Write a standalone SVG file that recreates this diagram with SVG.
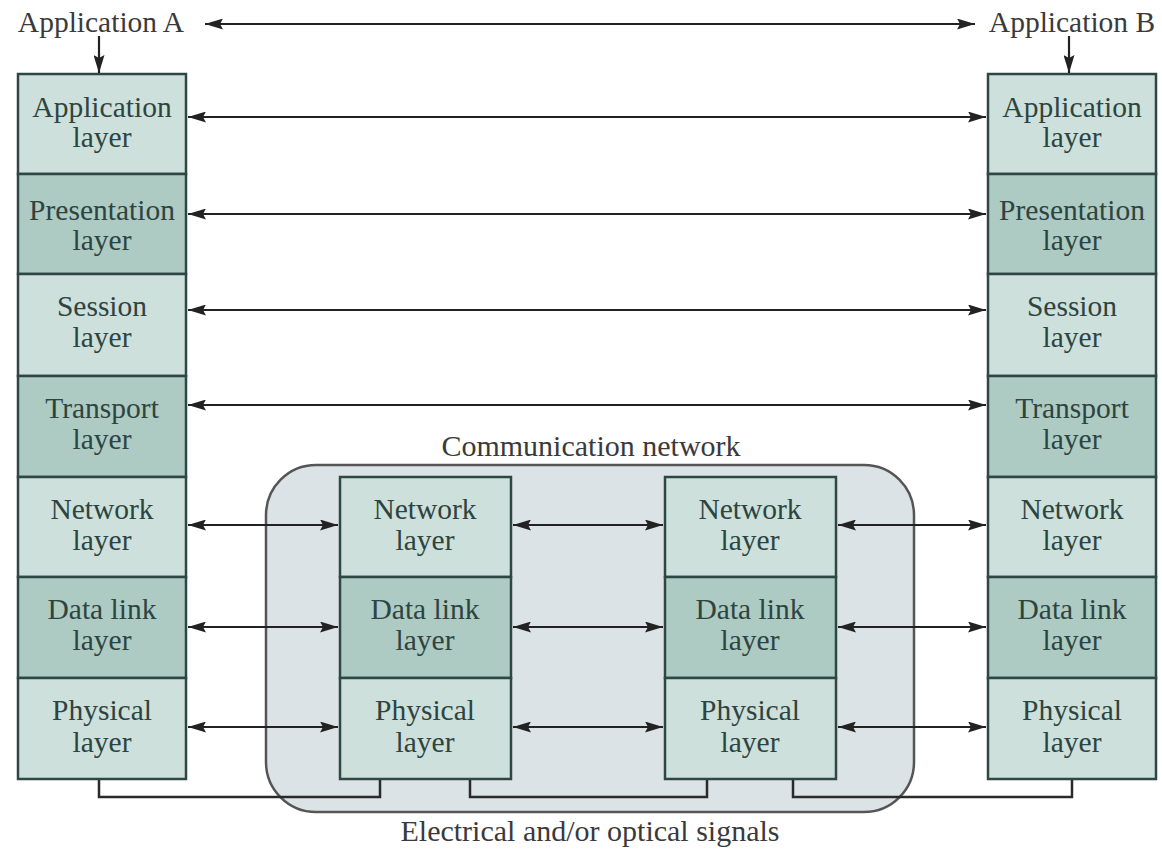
<svg xmlns="http://www.w3.org/2000/svg" width="1162" height="852" viewBox="0 0 1162 852">
<style>
.lt{fill:#cde0db;stroke:#2f4743;stroke-width:2.5}
.dk{fill:#adcac3;stroke:#2f4743;stroke-width:2.5}
.t{font-family:"Liberation Serif",serif;font-size:29.5px;fill:#2e4440;text-anchor:middle}
.lbl{font-family:"Liberation Serif",serif;font-size:30px;fill:#3a3a3a;text-anchor:middle}
.app{font-family:"Liberation Serif",serif;font-size:29.5px;fill:#3a3a3a;text-anchor:middle}
.a{stroke:#222;stroke-width:2.2;fill:none;marker-start:url(#ah);marker-end:url(#ah)}
.s{stroke:#2a2a2a;stroke-width:2.5;fill:none}
</style>
<defs>
<marker id="ah" viewBox="0 0 18 11" refX="18" refY="5.5" markerWidth="18" markerHeight="11" markerUnits="userSpaceOnUse" orient="auto-start-reverse">
<path d="M0,0 L18,5.5 L0,11 L3,5.5 Z" fill="#222"/>
</marker>
</defs>
<rect width="1162" height="852" fill="#ffffff"/>
<g id="network-cloud">
<rect x="266" y="465" width="648" height="347" rx="50" ry="50" fill="#dce3e6" stroke="#555" stroke-width="2.5"/>
<text class="lbl" x="591" y="456">Communication network</text>
</g>
<g id="stack-A">
<rect class="lt" x="18" y="74" width="168" height="100"/>
<text class="t" x="102" y="117">Application</text><text class="t" x="102" y="147">layer</text>
<rect class="dk" x="18" y="174" width="168" height="100"/>
<text class="t" x="102" y="220">Presentation</text><text class="t" x="102" y="250">layer</text>
<rect class="lt" x="18" y="274" width="168" height="102"/>
<text class="t" x="102" y="316">Session</text><text class="t" x="102" y="347">layer</text>
<rect class="dk" x="18" y="376" width="168" height="101"/>
<text class="t" x="102" y="418">Transport</text><text class="t" x="102" y="449">layer</text>
<rect class="lt" x="18" y="477" width="168" height="100"/>
<text class="t" x="102" y="519">Network</text><text class="t" x="102" y="550">layer</text>
<rect class="dk" x="18" y="577" width="168" height="101"/>
<text class="t" x="102" y="619">Data link</text><text class="t" x="102" y="650">layer</text>
<rect class="lt" x="18" y="678" width="168" height="101"/>
<text class="t" x="102" y="720">Physical</text><text class="t" x="102" y="752">layer</text>
</g>
<g id="stack-B">
<rect class="lt" x="988" y="74" width="168" height="100"/>
<text class="t" x="1072" y="117">Application</text><text class="t" x="1072" y="147">layer</text>
<rect class="dk" x="988" y="174" width="168" height="100"/>
<text class="t" x="1072" y="220">Presentation</text><text class="t" x="1072" y="250">layer</text>
<rect class="lt" x="988" y="274" width="168" height="102"/>
<text class="t" x="1072" y="316">Session</text><text class="t" x="1072" y="347">layer</text>
<rect class="dk" x="988" y="376" width="168" height="101"/>
<text class="t" x="1072" y="418">Transport</text><text class="t" x="1072" y="449">layer</text>
<rect class="lt" x="988" y="477" width="168" height="100"/>
<text class="t" x="1072" y="519">Network</text><text class="t" x="1072" y="550">layer</text>
<rect class="dk" x="988" y="577" width="168" height="101"/>
<text class="t" x="1072" y="619">Data link</text><text class="t" x="1072" y="650">layer</text>
<rect class="lt" x="988" y="678" width="168" height="101"/>
<text class="t" x="1072" y="720">Physical</text><text class="t" x="1072" y="752">layer</text>
</g>
<g id="node-1">
<rect class="lt" x="340" y="477" width="171" height="100"/>
<text class="t" x="425" y="519">Network</text><text class="t" x="425" y="550">layer</text>
<rect class="dk" x="340" y="577" width="171" height="101"/>
<text class="t" x="425" y="619">Data link</text><text class="t" x="425" y="650">layer</text>
<rect class="lt" x="340" y="678" width="171" height="101"/>
<text class="t" x="425" y="720">Physical</text><text class="t" x="425" y="752">layer</text>
</g>
<g id="node-2">
<rect class="lt" x="665" y="477" width="171" height="100"/>
<text class="t" x="750" y="519">Network</text><text class="t" x="750" y="550">layer</text>
<rect class="dk" x="665" y="577" width="171" height="101"/>
<text class="t" x="750" y="619">Data link</text><text class="t" x="750" y="650">layer</text>
<rect class="lt" x="665" y="678" width="171" height="101"/>
<text class="t" x="750" y="720">Physical</text><text class="t" x="750" y="752">layer</text>
</g>
<g id="labels">
<text class="app" x="101" y="32">Application A</text>
<text class="app" x="1072" y="32">Application B</text>
<text class="lbl" x="590" y="841">Electrical and/or optical signals</text>
</g>
<g id="connectors">
<line class="a" x1="205" y1="24" x2="975" y2="24"/>
<line x1="99" y1="36" x2="99" y2="73" stroke="#222" stroke-width="2.2" marker-end="url(#ah)"/>
<line x1="1069" y1="36" x2="1069" y2="73" stroke="#222" stroke-width="2.2" marker-end="url(#ah)"/>
<line class="a" x1="188" y1="117" x2="986" y2="117"/>
<line class="a" x1="188" y1="214" x2="986" y2="214"/>
<line class="a" x1="188" y1="310" x2="986" y2="310"/>
<line class="a" x1="188" y1="405" x2="986" y2="405"/>
<line class="a" x1="188" y1="525" x2="338" y2="525"/>
<line class="a" x1="513" y1="525" x2="663" y2="525"/>
<line class="a" x1="838" y1="525" x2="986" y2="525"/>
<line class="a" x1="188" y1="627" x2="338" y2="627"/>
<line class="a" x1="513" y1="627" x2="663" y2="627"/>
<line class="a" x1="838" y1="627" x2="986" y2="627"/>
<line class="a" x1="188" y1="727" x2="338" y2="727"/>
<line class="a" x1="513" y1="727" x2="663" y2="727"/>
<line class="a" x1="838" y1="727" x2="986" y2="727"/>
<path class="s" d="M99,780 V797 H380 V780"/>
<path class="s" d="M470,780 V797 H707 V780"/>
<path class="s" d="M793,780 V797 H1072 V780"/>
</g>
</svg>
